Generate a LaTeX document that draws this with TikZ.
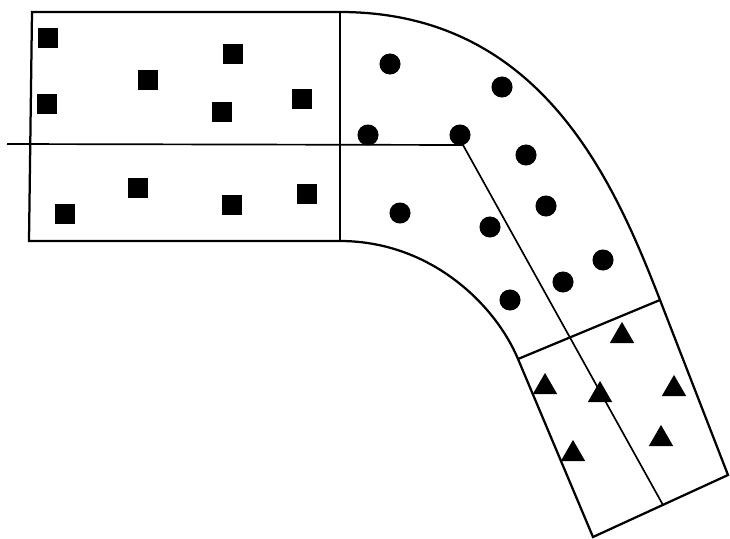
\documentclass[tikz,border=0pt]{standalone}
\usepackage{tikz}
\usetikzlibrary{shapes,positioning}

\begin{document}
\begin{tikzpicture}[x=0.025cm, y=-0.025cm,
  wall/.style={line width=1.6pt},
  axis/.style={line width=1.2pt},
  sqr/.style={rectangle, fill=black, minimum size=14pt, inner sep=0pt},
  dot/.style={circle, fill=black, minimum size=15pt, inner sep=0pt},
  tri/.style={regular polygon, regular polygon sides=3, fill=black, minimum size=20pt, inner sep=0pt}]
\useasboundingbox (0,0) rectangle (730,539);
% corners of the channel
\coordinate (inTL) at (32,12);
\coordinate (inBL) at (29,241);
\coordinate (bendTop) at (340,12);
\coordinate (bendBot) at (340,241);
\coordinate (outTR) at (660,300);
\coordinate (outTL) at (518,359);
\coordinate (outBR) at (728,475);
\coordinate (outBL) at (593,537);
% centre line
\coordinate (axL) at (7,144);
\coordinate (kink) at (463,145);
\coordinate (axE) at (663,505);
% straight inlet
\draw[wall] (bendTop) -- (inTL) -- (inBL) -- (bendBot);
\draw[wall] (bendTop) -- (bendBot);
% bend and outlet
\draw[wall] (bendTop) .. controls (540,12) and (613,179) .. (outTR) -- (outBR) -- (outBL) -- (outTL) .. controls (495,304) and (430,241) .. (bendBot);
\draw[wall] (outTL) -- (outTR);
% centre line
\draw[axis] (axL) -- (kink) -- (axE);
% squares in the inlet
\foreach \x/\y [count=\i] in {48/38, 233/54, 148/80, 47/104, 222/112, 302/99, 138/188, 65/214, 232/205, 307/194}
  \node[sqr] (sq\i) at (\x,\y) {};
% dots in the bend
\foreach \x/\y [count=\i] in {390/64, 502/87, 368/135, 460/135, 526/155, 546/206, 400/213, 490/227, 603/260, 563/282, 510/300}
  \node[dot] (dot\i) at (\x,\y) {};
% triangles in the outlet
\foreach \x/\y [count=\i] in {622/336, 545/387, 600/395, 674/389, 661/439, 573/454}
  \node[tri] (tri\i) at (\x,\y) {};
\end{tikzpicture}
\end{document}
